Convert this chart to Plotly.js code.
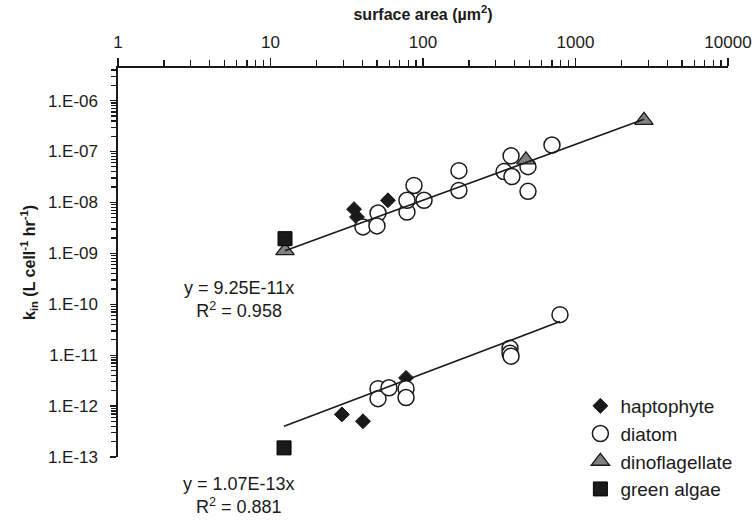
<!DOCTYPE html>
<html>
<head>
<meta charset="utf-8">
<script src="https://cdn.plot.ly/plotly-3.0.1.min.js"></script>
<style>html,body{margin:0;padding:0;background:#fff}#chart{width:754px;height:520px}</style>
</head>
<body>
<div id="chart"></div>
<script>
// ---- data ----
const seriesNames = ['haptophyte', 'diatom', 'dinoflagellate', 'green algae'];

const haptophyteX = [35.3, 36.9, 58.9, 29.4, 40.4, 77.4];
const haptophyteY = [7.38e-9, 5.16e-9, 1.10e-8, 6.87e-13, 5.03e-13, 3.58e-12];

const diatomX = [40.4, 50.7, 49.9, 78.5, 78.5, 87.3, 101.6, 172, 172, 378, 340, 383, 488, 488, 701,
                 50.7, 50.7, 59.8, 77.4, 77.4, 372, 372, 378, 791];
const diatomY = [3.30e-9, 6.18e-9, 3.46e-9, 6.46e-9, 1.10e-8, 2.15e-8, 1.10e-8, 4.21e-8, 1.72e-8, 8.22e-8, 4.03e-8, 3.22e-8, 5.04e-8, 1.65e-8, 1.34e-7,
                 2.19e-12, 1.40e-12, 2.29e-12, 2.19e-12, 1.47e-12, 1.37e-11, 1.09e-11, 9.57e-12, 6.24e-11];

const dinoflagellateX = [12.45, 473, 2812];
const dinoflagellateY = [1.13e-9, 6.87e-8, 4.09e-7];

const greenAlgaeX = [12.45, 12.27];
const greenAlgaeY = [1.94e-9, 1.51e-13];

// trendlines as drawn in the picture (end points) and their printed equations
const fitLineX = [[12.45, 2812], [12.27, 791]];
const fitLineY = [[1.12e-9, 4.28e-7], [4.03e-13, 4.56e-11]];
const fitLabels = ['y = 9.25E-11x', 'y = 1.07E-13x'];
const fitR2 = ['0.958', '0.881'];

const xTickVals = [1, 10, 100, 1000, 10000];
const xTickText = ['1', '10', '100', '1000', '10000'];
const yTickVals = [1e-13, 1e-12, 1e-11, 1e-10, 1e-9, 1e-8, 1e-7, 1e-6];
const yTickText = ['1.E-13', '1.E-12', '1.E-11', '1.E-10', '1.E-09', '1.E-08', '1.E-07', '1.E-06'];

// ---- build ----
const INK = '#1a1a1a';
const FONT = '"Liberation Sans", Arial, Helvetica, sans-serif';
const YTOP = -5.36;

function minorVals(majors, maxV) {
  const out = [];
  majors.forEach(m => { for (let k = 2; k <= 9; k++) { const v = m * k; if (v < maxV) out.push(v); } });
  return out;
}

const traces = [
  { name: seriesNames[0], x: haptophyteX, y: haptophyteY, type: 'scatter', mode: 'markers',
    marker: { symbol: 'diamond', size: 11.5, color: INK, line: { color: INK, width: 1 } } },
  { name: seriesNames[1], x: diatomX, y: diatomY, type: 'scatter', mode: 'markers',
    marker: { symbol: 'circle', size: 16, color: '#ffffff', line: { color: INK, width: 1.5 } } },
  { name: seriesNames[2], x: dinoflagellateX, y: dinoflagellateY, type: 'scatter', mode: 'markers',
    marker: { symbol: 'triangle-up', size: 16, color: '#808080', line: { color: INK, width: 1.3 } } },
  { name: seriesNames[3], x: greenAlgaeX, y: greenAlgaeY, type: 'scatter', mode: 'markers',
    marker: { symbol: 'square', size: 14, color: INK, line: { color: '#000', width: 1 } } }
];
fitLineX.forEach((xs, i) => {
  traces.push({ x: xs, y: fitLineY[i], type: 'scatter', mode: 'lines', showlegend: false,
    hoverinfo: 'skip', line: { color: INK, width: 1.6 } });
});

// equation blocks (paper coords of their centres)
const eqPos = [{ x: 0.199, y: 0.406 }, { x: 0.199, y: -0.099 }];
const annotations = fitLabels.map((t, i) => ({
  xref: 'paper', yref: 'paper', x: eqPos[i].x, y: eqPos[i].y, xanchor: 'center', yanchor: 'middle',
  text: t + '<br>R<sup>2</sup> = ' + fitR2[i], showarrow: false, align: 'center',
  font: { family: FONT, size: 18, color: INK }
}));

const layout = {
  width: 754, height: 520,
  margin: { l: 118, r: 26, t: 68, b: 58 },
  paper_bgcolor: '#ffffff', plot_bgcolor: '#ffffff',
  font: { family: FONT, size: 17, color: INK },
  showlegend: true,
  legend: { x: 0.758, xanchor: 'left', y: 0.180, yanchor: 'top', bgcolor: 'rgba(0,0,0,0)',
            font: { family: FONT, size: 19, color: INK }, traceorder: 'normal' },
  xaxis: {
    type: 'log', side: 'top', range: [0, 4], automargin: false,
    tickmode: 'array', tickvals: xTickVals, ticktext: xTickText, ticklabeloverflow: 'allow',
    ticks: 'outside', ticklen: 8, tickwidth: 1.3, tickcolor: INK, ticklabelstandoff: 4,
    minor: { tickmode: 'array', tickvals: minorVals(xTickVals, 10000), ticks: 'outside', ticklen: 6, tickwidth: 1.3, tickcolor: INK, showgrid: false },
    showline: true, linecolor: INK, linewidth: 1.6, showgrid: false, zeroline: false,
    tickfont: { family: FONT, size: 17, color: INK },
    title: { text: '<b>surface area (µm<sup>2</sup>)</b>', font: { family: FONT, size: 16, color: INK }, standoff: 8 }
  },
  yaxis: {
    type: 'log', range: [-13, YTOP], automargin: false,
    tickmode: 'array', tickvals: yTickVals, ticktext: yTickText,
    ticks: 'outside', ticklen: 6, tickwidth: 1.3, tickcolor: INK, ticklabelstandoff: 9,
    minor: { tickmode: 'array', tickvals: minorVals(yTickVals, Math.pow(10, YTOP)), ticks: 'outside', ticklen: 5, tickwidth: 1.3, tickcolor: INK, showgrid: false },
    showline: true, linecolor: INK, linewidth: 1.6, showgrid: false, zeroline: false,
    tickfont: { family: FONT, size: 17, color: INK },
    title: { text: '<b>k<sub>in</sub> (L cell<sup>-1</sup> hr<sup>-1</sup>)</b>', font: { family: FONT, size: 16, color: INK }, standoff: 8 }
  },
  annotations: annotations
};

Plotly.newPlot('chart', traces, layout, { displayModeBar: false, staticPlot: true });
</script>
</body>
</html>
